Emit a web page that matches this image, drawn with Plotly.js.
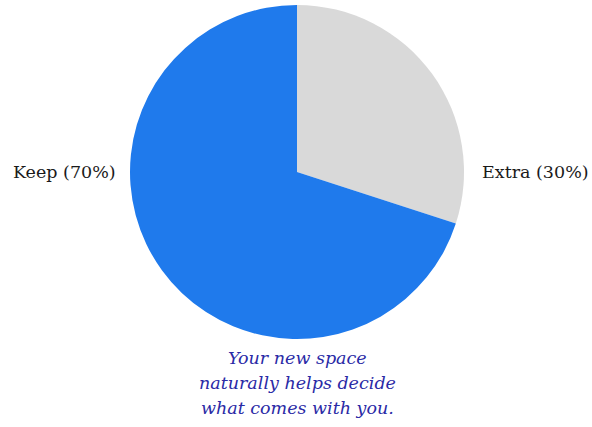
<!DOCTYPE html>
<html>
<head>
<meta charset="utf-8">
<script src="https://cdn.plot.ly/plotly-3.0.1.min.js"></script>
<style>html,body{margin:0;padding:0;background:#fff;}#chart{width:592px;height:427px;}</style>
</head>
<body>
<div id="chart"></div>
<script>
const categories = ["Extra", "Keep"];
const values = [30, 70];
const colors = ["#d9d9d9", "#1f7aec"];
const caption = ["Your new space", "naturally helps decide", "what comes with you."];

const W = 592, H = 427;
const dom = {x: [130 / W, 464 / W], y: [1 - 339 / H, 1 - 5 / H]};

const trace = {
  type: "pie",
  labels: categories,
  values: values,
  marker: {colors: colors, line: {width: 0}},
  sort: false,
  direction: "clockwise",
  rotation: 0,
  textinfo: "none",
  hoverinfo: "label+percent",
  showlegend: false,
  domain: dom
};

const serif = "DejaVu Serif, Liberation Serif, serif";
const total = values.reduce((a, b) => a + b, 0);
const pct = v => Math.round(v / total * 100) + "%";

const annotations = [
  {x: 118 / W, y: 1 - 172 / H, xref: "paper", yref: "paper", xanchor: "right", yanchor: "middle",
   text: categories[1] + " (" + pct(values[1]) + ")", showarrow: false,
   font: {family: serif, size: 17.5, color: "#1a1a1a"}},
  {x: 480 / W, y: 1 - 172 / H, xref: "paper", yref: "paper", xanchor: "left", yanchor: "middle",
   text: categories[0] + " (" + pct(values[0]) + ")", showarrow: false,
   font: {family: serif, size: 17.5, color: "#1a1a1a"}}
];
caption.forEach((line, i) => {
  annotations.push({
    x: 297 / W, y: 1 - (358 + 25 * i) / H, xref: "paper", yref: "paper",
    xanchor: "center", yanchor: "middle", showarrow: false,
    text: "<i>" + line + "</i>",
    font: {family: serif, size: 17.5, color: "#2a2aa6"}
  });
});

Plotly.newPlot("chart", [trace], {
  width: W, height: H,
  margin: {l: 0, r: 0, t: 0, b: 0},
  paper_bgcolor: "#fff",
  annotations: annotations
}, {displayModeBar: false, staticPlot: true});
</script>
</body>
</html>
